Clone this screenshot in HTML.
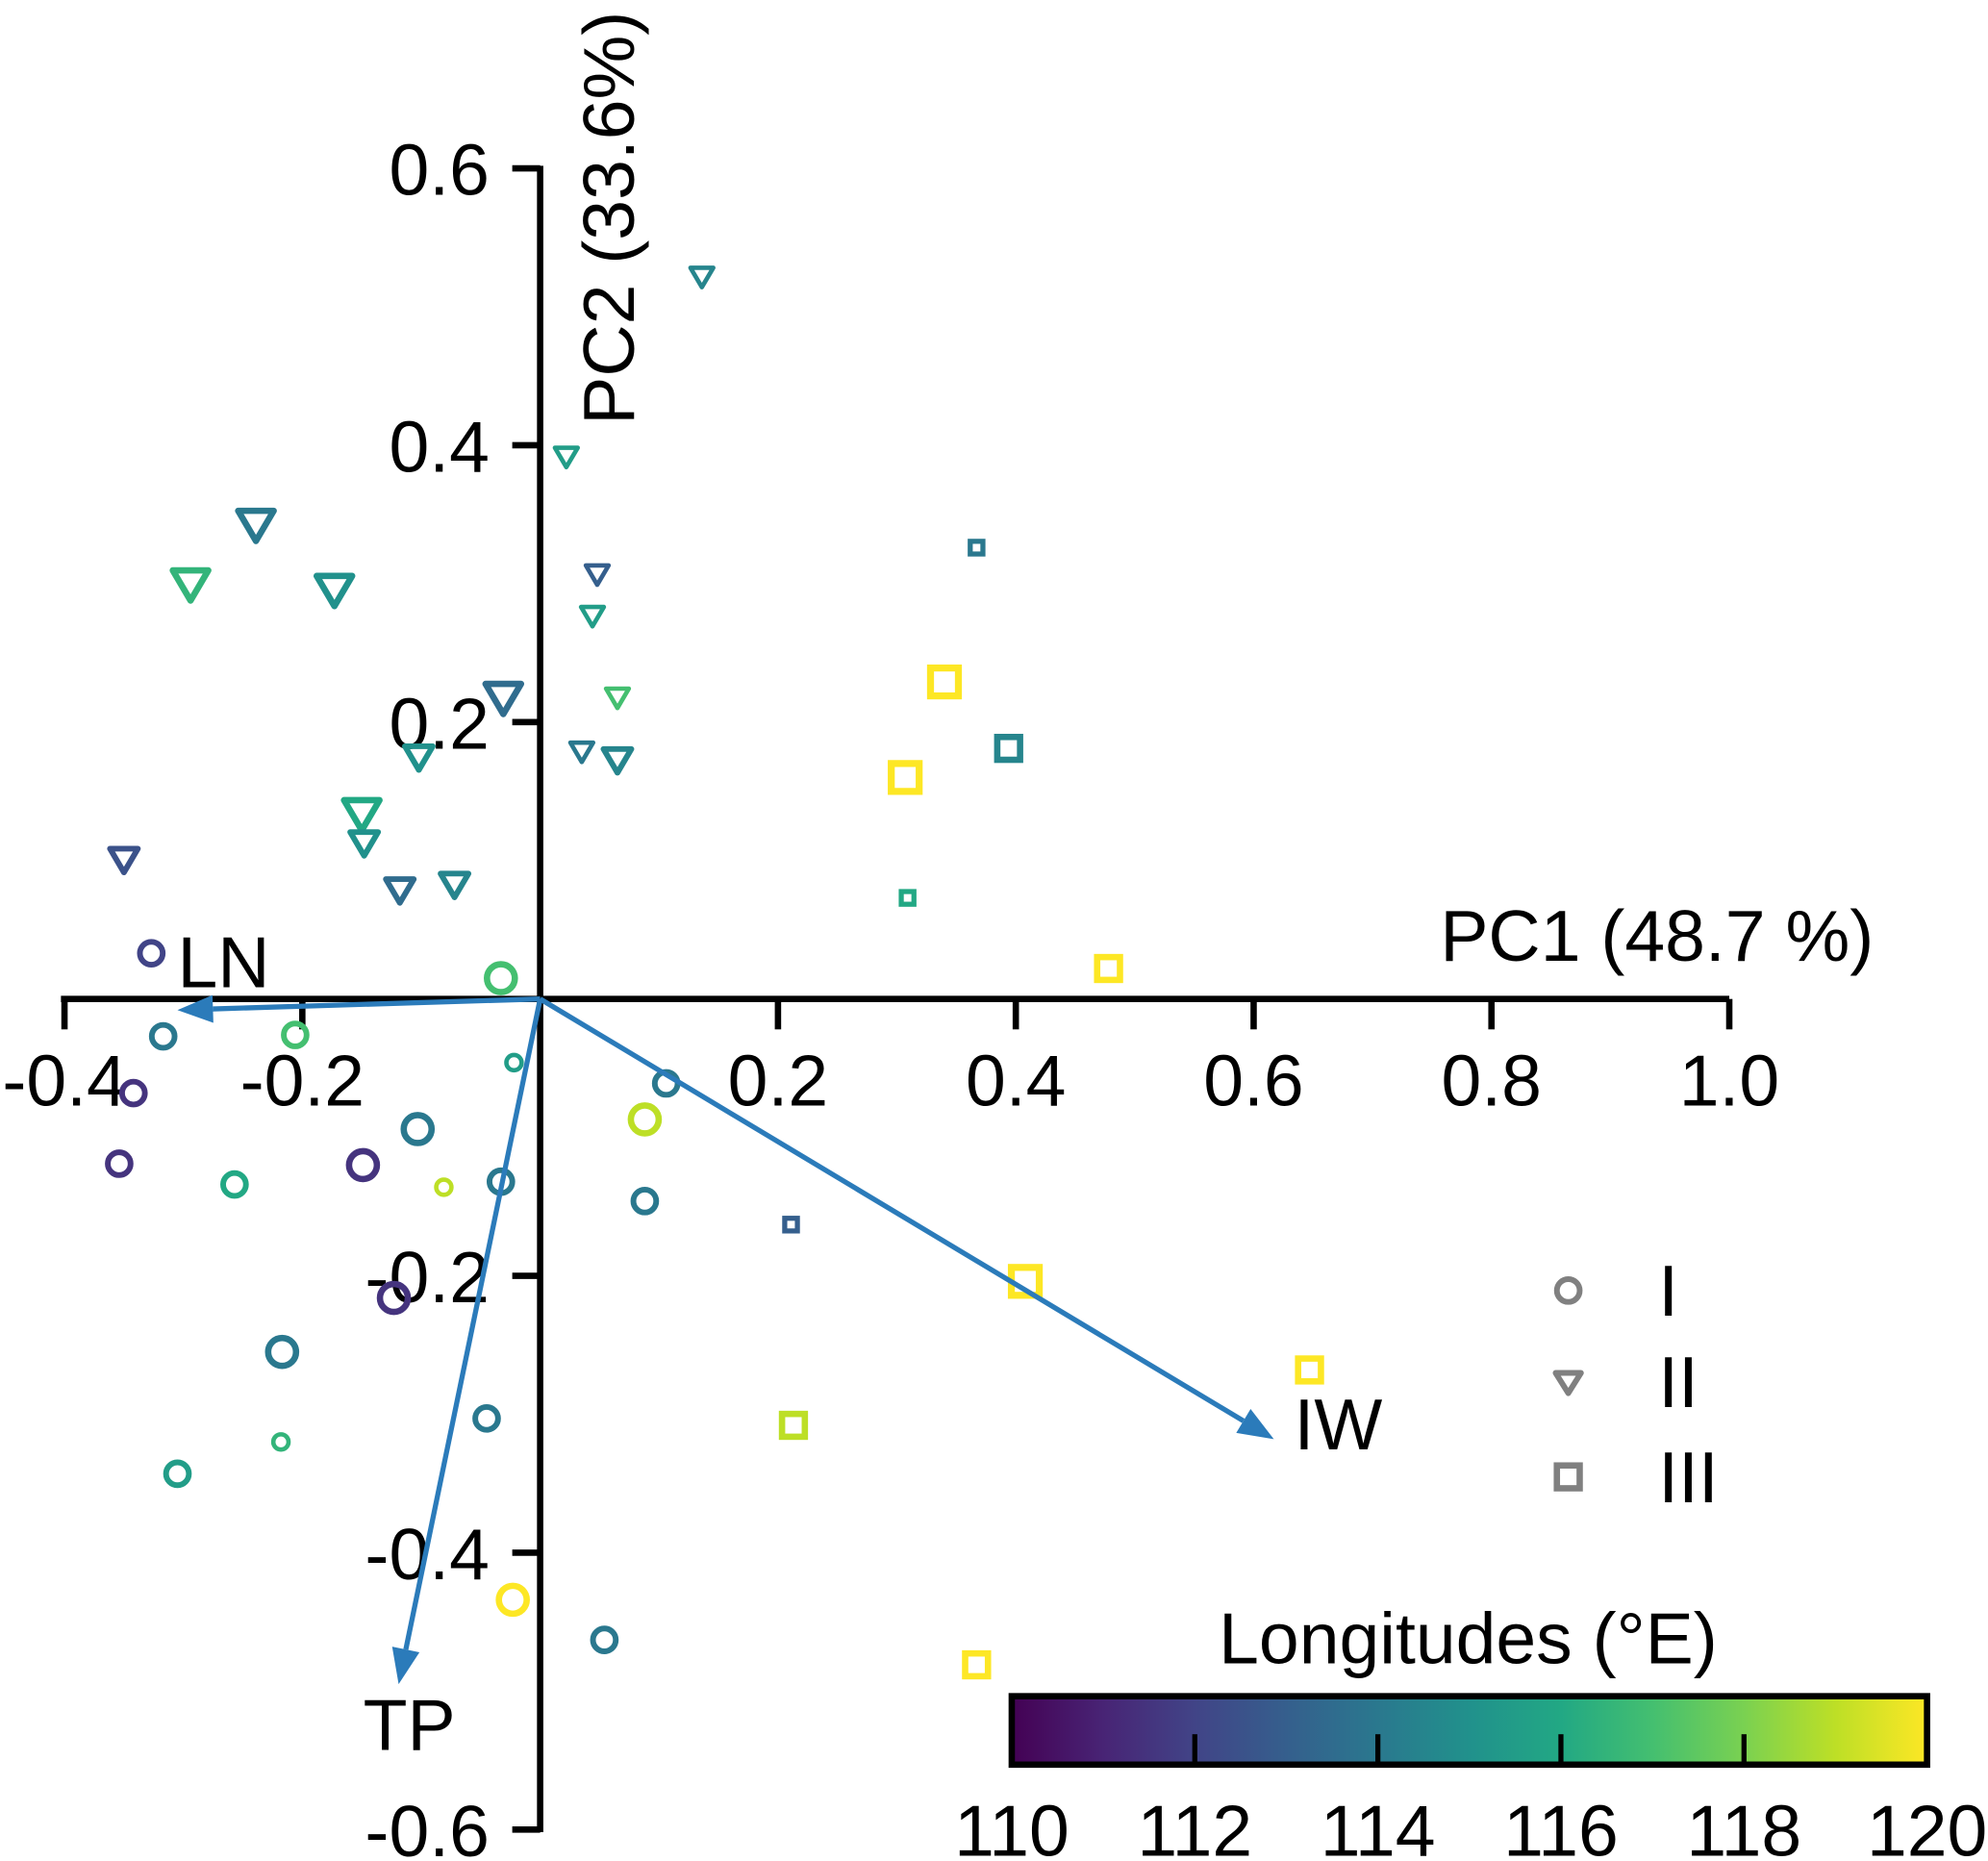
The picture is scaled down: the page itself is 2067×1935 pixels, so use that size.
<!DOCTYPE html>
<html><head><meta charset="utf-8"><style>
html,body{margin:0;padding:0;background:#fff}
svg{display:block}
text{font-family:"Liberation Sans",Arial,sans-serif;fill:#000}
</style></head><body>
<svg id="chart" width="2067" height="1935" viewBox="0 0 1568 1468" xmlns="http://www.w3.org/2000/svg">
<defs>
<linearGradient id="vir" x1="0" x2="1" y1="0" y2="0">
<stop offset="0" stop-color="#440154"/><stop offset="0.1" stop-color="#482475"/><stop offset="0.2" stop-color="#414487"/><stop offset="0.3" stop-color="#355f8d"/><stop offset="0.4" stop-color="#2a788e"/><stop offset="0.5" stop-color="#21918c"/><stop offset="0.6" stop-color="#22a884"/><stop offset="0.7" stop-color="#44bf70"/><stop offset="0.8" stop-color="#7ad151"/><stop offset="0.9" stop-color="#bddf26"/><stop offset="1" stop-color="#fde725"/>
</linearGradient>
</defs>
<g id="axes"></g>
<g id="marks"></g>
<g id="arrows"></g>
</svg>
<script>
const xTicks=[-0.4,-0.2,0.2,0.4,0.6,0.8,1.0];
const xTickLabels=["-0.4","-0.2","0.2","0.4","0.6","0.8","1.0"];
const yTicks=[0.6,0.4,0.2,-0.2,-0.4,-0.6];
const yTickLabels=["0.6","0.4","0.2","-0.2","-0.4","-0.6"];
const cbTicks=[110,112,114,116,118,120];
// group I circles: x, y, longitude, size
const circX=[-0.327,-0.033,-0.317,-0.206,-0.022,-0.342,0.106,0.088,-0.354,-0.103,-0.257,-0.149,-0.081,-0.033,0.088,-0.123,-0.217,-0.218,-0.045,-0.305,-0.023,0.054];
const circY=[0.033,0.015,-0.027,-0.026,-0.046,-0.068,-0.061,-0.087,-0.119,-0.094,-0.134,-0.120,-0.136,-0.132,-0.146,-0.216,-0.255,-0.320,-0.303,-0.343,-0.434,-0.463];
const circLon=[112,117,114,117,115.5,111.5,114,119,111.5,114,116,111.5,119,114,114,111.5,114,116.5,114,115.5,120,114];
const circSize=[2,3,2,2,1,2,2,3,2,3,2,3,1,2,2,3,3,1,2,2,3,2];
// group II triangles
const triX=[0.136,0.022,-0.239,-0.294,-0.173,0.048,0.044,-0.031,0.065,-0.102,0.035,0.065,-0.150,-0.148,-0.350,-0.118,-0.072];
const triY=[0.522,0.392,0.343,0.300,0.296,0.307,0.277,0.218,0.218,0.175,0.179,0.173,0.134,0.113,0.101,0.079,0.083];
const triLon=[114.5,115.5,114,116.5,115,113,115.5,113.5,117,115,114,114.5,116,115,112.5,113.5,114.5];
const triSize=[1,1,3,3,3,1,1,3,1,2,1,2,3,2,2,2,2];
// group III squares
const sqX=[0.367,0.340,0.307,0.394,0.309,0.478,0.211,0.408,0.647,0.213,0.367];
const sqY=[0.326,0.229,0.160,0.181,0.073,0.022,-0.163,-0.204,-0.268,-0.308,-0.481];
const sqLon=[114,120,120,114.5,116,120,113,120,120,119,120];
const sqSize=[1,3,3,2,1,2,1,3,2,2,2];
// loading arrows
const arrowNames=["LN","IW","TP"];
const arrowX=[-0.305,0.617,-0.119];
const arrowY=[-0.008,-0.318,-0.495];

const NS="http://www.w3.org/2000/svg";
const X0=426,Y0=788,SX=938,SY=1092;
const sx=v=>X0+v*SX, sy=v=>Y0-v*SY;
const cb0=798,cb1=1520, cbx=v=>cb0+(v-110)/10*(cb1-cb0);
const vir=[[68,1,84],[72,36,117],[65,68,135],[53,95,141],[42,120,142],[33,145,140],[34,168,132],[68,191,112],[122,209,81],[189,223,38],[253,231,37]];
function col(lon){let t=Math.max(0,Math.min(1,(lon-110)/10))*(vir.length-1);let i=Math.min(Math.floor(t),vir.length-2),f=t-i;
 const c=vir[i].map((a,k)=>Math.round(a+(vir[i+1][k]-a)*f));return`rgb(${c})`;}
function mk(tag,attrs,parent,txt){const e=document.createElementNS(NS,tag);for(const k in attrs)e.setAttribute(k,attrs[k]);if(txt!==undefined)e.textContent=txt;parent.appendChild(e);return e;}
const axes=document.getElementById('axes'),marks=document.getElementById('marks'),arrows=document.getElementById('arrows');
const FS=57;
let e=mk('line',{x1:48,x2:1364,y1:Y0,y2:Y0,stroke:'#000','stroke-width':5},axes);


e=mk('line',{x1:X0,x2:X0,y1:sy(0.6)-2,y2:sy(-0.6)+2,stroke:'#000','stroke-width':5},axes);


xTicks.forEach((v,i)=>{
 let t=mk('line',{x1:sx(v),x2:sx(v),y1:Y0,y2:Y0+24,stroke:'#000','stroke-width':5},axes);
 
 
 let l=mk('text',{x:sx(v),y:872,'font-size':FS,'text-anchor':'middle'},axes,xTickLabels[i]);
 
 
});
yTicks.forEach((v,i)=>{
 let t=mk('line',{x1:X0-22,x2:X0,y1:sy(v),y2:sy(v),stroke:'#000','stroke-width':5},axes);
 
 
 let l=mk('text',{x:386,y:sy(v)+21,'font-size':FS,'text-anchor':'end'},axes,yTickLabels[i]);
 
 
});
e=mk('text',{x:1478,y:758,'font-size':FS,'text-anchor':'end'},axes,'PC1 (48.7 %)');


e=mk('text',{x:0,y:0,'font-size':FS,'text-anchor':'middle',transform:'translate(500,172) rotate(-90)'},axes,'PC2 (33.6%)');



const cR=[0,6,9,11],cW=[0,3.5,4.5,5];
function circle(x,y,lon,s){let m=mk('circle',{cx:sx(x),cy:sy(y),r:cR[s],fill:'none',stroke:col(lon),'stroke-width':cW[s]},marks);
 
 }
const tW=[0,9,11,14];
function tri(x,y,lon,s){const cx=sx(x),cy=sy(y),h=tW[s];
 let m=mk('polygon',{points:`${cx-h},${cy-h*0.75} ${cx+h},${cy-h*0.75} ${cx},${cy+h*0.95}`,fill:'none',stroke:col(lon),'stroke-width':cW[s],'stroke-linejoin':'round'},marks);
 
 }
const qH=[0,5,9,11];
function sq(x,y,lon,s){const h=qH[s];
 let m=mk('rect',{x:sx(x)-h,y:sy(y)-h,width:2*h,height:2*h,fill:'none',stroke:col(lon),'stroke-width':cW[s]+0.5},marks);
 
 }
circX.forEach((v,i)=>circle(v,circY[i],circLon[i],circSize[i]));
triX.forEach((v,i)=>tri(v,triY[i],triLon[i],triSize[i]));
sqX.forEach((v,i)=>sq(v,sqY[i],sqLon[i],sqSize[i]));

const AC='#2b7bba';
const labOff=[[0,-18,'start'],[16,8,'start'],[-28,52,'start']];
arrowNames.forEach((n,i)=>{
 const x2=sx(arrowX[i]),y2=sy(arrowY[i]);const dx=x2-X0,dy=y2-Y0,L=Math.hypot(dx,dy),ux=dx/L,uy=dy/L;
 const hl=28,hw=11,bx=x2-ux*hl,by=y2-uy*hl;
 let g=mk('g',{},arrows);
 
 
 mk('line',{x1:X0,y1:Y0,x2:bx,y2:by,stroke:AC,'stroke-width':4},g);
 mk('polygon',{points:`${x2},${y2} ${bx-uy*hw},${by+ux*hw} ${bx+uy*hw},${by-ux*hw}`,fill:AC},g);
 let t=mk('text',{x:x2+labOff[i][0],y:y2+labOff[i][1],'font-size':FS,'text-anchor':labOff[i][2]},arrows,n);
 
 
});
</script>
<script>
(function(){
const svg=document.getElementById('chart');
function mk(tag,attrs,parent,txt){const e=document.createElementNS("http://www.w3.org/2000/svg",tag);for(const k in attrs)e.setAttribute(k,attrs[k]);if(txt!==undefined)e.textContent=txt;parent.appendChild(e);return e;}
const lg=mk('g',{},svg);


const G='#808080';
mk('circle',{cx:1237,cy:1018,r:9,fill:'none',stroke:G,'stroke-width':4.5},lg);
mk('polygon',{points:'1227,1083 1247,1083 1237,1099',fill:'none',stroke:G,'stroke-width':4.5,'stroke-linejoin':'round'},lg);
mk('rect',{x:1228,y:1156,width:18,height:18,fill:'none',stroke:G,'stroke-width':5},lg);
mk('text',{x:1308,y:1038,'font-size':57},lg,'I');
mk('text',{x:1308,y:1110,'font-size':57},lg,'II');
mk('text',{x:1308,y:1185,'font-size':57},lg,'III');
const cb=mk('g',{},svg);


mk('text',{x:1158,y:1312,'font-size':57,'text-anchor':'middle'},cb,'Longitudes (°E)');
mk('rect',{x:798,y:1338,width:722,height:54,fill:'url(#vir)',stroke:'#000','stroke-width':5},cb);
cbTicks.forEach(v=>{const x=cbx(v);
 if(v>110&&v<120) mk('line',{x1:x,x2:x,y1:1368,y2:1392,stroke:'#000','stroke-width':4},cb);
 let t=mk('text',{x:x,y:1464,'font-size':57,'text-anchor':'middle'},cb,String(v));
 
 
});
})();
</script>
</body></html>
